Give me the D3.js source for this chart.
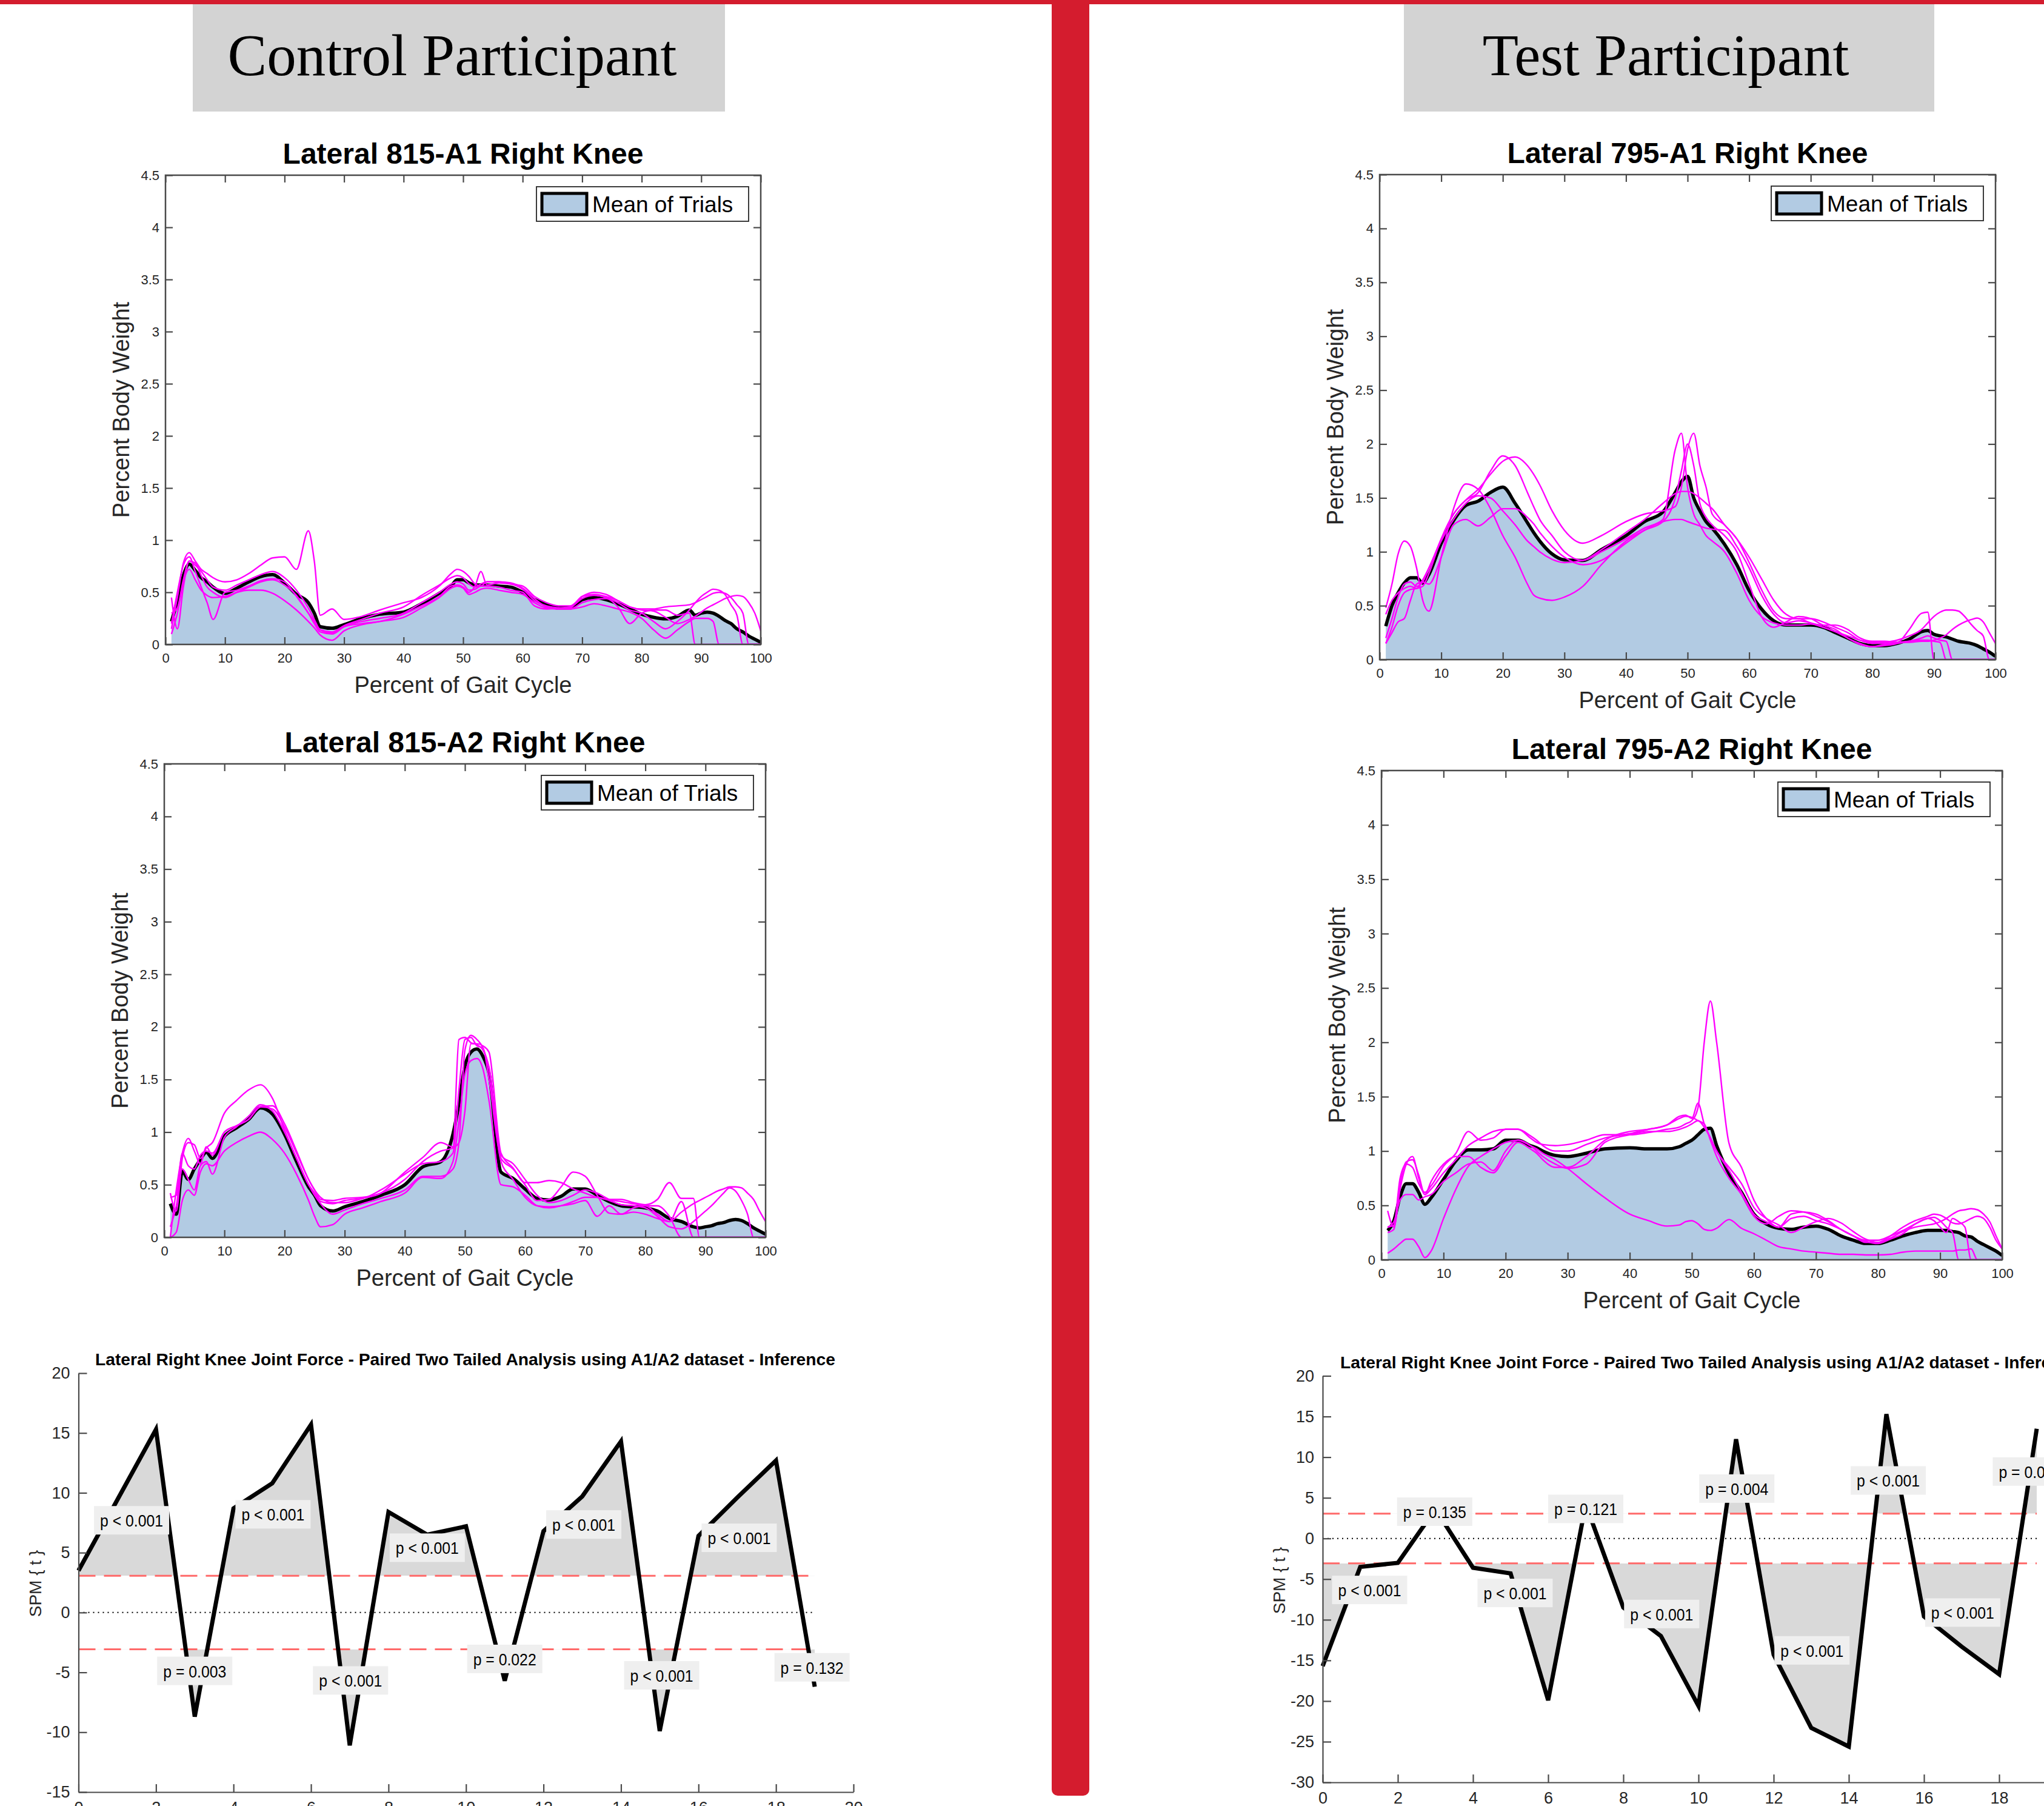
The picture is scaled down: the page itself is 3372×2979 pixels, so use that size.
<!DOCTYPE html>
<html>
<head>
<meta charset="utf-8">
<script src="https://cdn.jsdelivr.net/npm/d3@7"></script>
<style>
  body { margin: 0; background: #fff; }
  svg { display: block; }
</style>
</head>
<body>
<div id="chart"></div>
<script>
// gait cycle sample points (percent) shared by every force panel
const gait = [1,2,3,4,5,6,7,8, 10,12,14,16,18,20,22,24, 25,26,28,30,33,36,40,43,
  46,48,49,50,51,52,53,54, 56,58,60,62,64,66,68,70, 72,74,76,78,80,82,84,86,
  88,89,90,91,92,93,94,95, 96,97,98,99,100];

const forceYTicks = [0, 0.5, 1, 1.5, 2, 2.5, 3, 3.5, 4, 4.5];
const gaitTicks = [0, 10, 20, 30, 40, 50, 60, 70, 80, 90, 100];

// ---- Control 815-A1 ----
const ctrlA1Mean = [0.22,0.42,0.66,0.77,0.71,0.64,0.60,0.55, 0.49,0.54,0.60,0.65,0.67,0.59,0.48,0.40,
  0.30,0.17,0.155,0.19,0.25,0.29,0.31,0.39, 0.49,0.56,0.62,0.62,0.59,0.57,0.57,0.57,
  0.56,0.55,0.50,0.43,0.38,0.35,0.35,0.43, 0.45,0.43,0.39,0.34,0.29,0.26,0.245,0.27,
  0.33,0.28,0.30,0.31,0.30,0.27,0.23,0.20, 0.15,0.12,0.08,0.05,0.02];
const ctrlA1Trials = [
  [0.15,0.45,0.78,0.88,0.80,0.72,0.68,0.64, 0.60,0.62,0.68,0.76,0.83,0.84,0.72,1.09,
   0.80,0.28,0.34,0.24,0.27,0.33,0.40,0.45, 0.56,0.68,0.72,0.70,0.65,0.58,0.56,0.60,
   0.60,0.58,0.56,0.46,0.40,0.37,0.37,0.46, 0.50,0.48,0.42,0.36,0.34,0.34,0.36,0.37,
   0.38,0.40,0.43,0.46,0.49,0.50,0.49,0.45, 0.38,0.30,0,0,0],
  [0.20,0.50,0.76,0.84,0.70,0.55,0.40,0.24, 0.50,0.52,0.56,0.61,0.63,0.60,0.46,0.30,
   0.22,0.14,0.11,0.17,0.20,0.22,0.29,0.37, 0.46,0.56,0.57,0.55,0.50,0.56,0.70,0.57,
   0.59,0.58,0.53,0.42,0.37,0.35,0.34,0.40, 0.43,0.44,0.36,0.20,0.30,0.33,0.33,0.28,
   0.30,0,0,0,0,0,0,0, 0,0,0,0,0],
  [0.10,0.30,0.60,0.72,0.62,0.52,0.47,0.45, 0.46,0.50,0.52,0.52,0.49,0.42,0.33,0.22,
   0.16,0.09,0.04,0.13,0.19,0.22,0.26,0.35, 0.45,0.54,0.56,0.54,0.48,0.50,0.53,0.54,
   0.52,0.50,0.48,0.40,0.35,0.34,0.34,0.36, 0.39,0.37,0.34,0.31,0.25,0.14,0.06,0.14,
   0.22,0.25,0.25,0.25,0.22,0,0,0, 0,0,0,0,0],
  [0.30,0.35,0.62,0.80,0.76,0.70,0.62,0.55, 0.52,0.57,0.62,0.67,0.70,0.64,0.52,0.35,
   0.24,0.14,0.12,0.18,0.24,0.30,0.36,0.47, 0.57,0.64,0.66,0.64,0.58,0.55,0.58,0.60,
   0.60,0.59,0.54,0.44,0.36,0.34,0.35,0.46, 0.48,0.46,0.42,0.36,0.33,0.32,0.26,0.20,
   0.24,0.27,0.31,0.35,0.38,0.41,0.44,0.46, 0.47,0.46,0.40,0.30,0.13],
  [0.45,0.15,0.55,0.80,0.78,0.66,0.55,0.50, 0.45,0.50,0.55,0.60,0.62,0.57,0.47,0.30,
   0.20,0.12,0.10,0.17,0.22,0.25,0.30,0.40, 0.50,0.58,0.60,0.58,0.52,0.53,0.56,0.56,
   0.55,0.52,0.50,0.37,0.34,0.35,0.36,0.44, 0.47,0.45,0.40,0.33,0.30,0.22,0.15,0.22,
   0.33,0.40,0.46,0.50,0.53,0.52,0.48,0.38, 0.28,0,0,0,0]
];

// ---- Control 815-A2 ----
const ctrlA2Mean = [0.32,0.22,0.63,0.55,0.65,0.74,0.81,0.75, 0.96,1.04,1.12,1.23,1.17,0.98,0.72,0.48,
  0.40,0.30,0.25,0.29,0.34,0.40,0.50,0.67, 0.72,0.98,1.27,1.63,1.76,1.79,1.72,1.56,
  0.62,0.56,0.46,0.37,0.355,0.39,0.46,0.46, 0.40,0.34,0.30,0.29,0.28,0.25,0.18,0.15,
  0.10,0.09,0.10,0.11,0.13,0.14,0.16,0.17, 0.16,0.13,0.09,0.06,0.03];
const ctrlA2Trials = [
  [0.42,0.25,0.75,0.90,0.88,0.75,0.85,0.90, 1.18,1.30,1.40,1.45,1.32,1.02,0.75,0.50,
   0.42,0.34,0.32,0.35,0.37,0.45,0.60,0.70, 0.72,0.80,1.40,1.88,1.90,1.82,1.80,1.50,
   0.75,0.65,0.50,0.35,0.36,0.48,0.62,0.58, 0.40,0.23,0.22,0.24,0.22,0.18,0.15,0.24,
   0.32,0.35,0.38,0.41,0.44,0.46,0.48,0.48, 0.47,0.42,0.36,0.25,0.15],
  [0.0,0.05,0.35,0.45,0.40,0.62,0.70,0.68, 0.82,0.90,0.96,1.00,0.93,0.80,0.60,0.35,
   0.20,0.10,0.12,0.22,0.28,0.34,0.42,0.57, 0.56,0.72,1.10,1.55,1.68,1.70,1.60,1.30,
   0.50,0.48,0.40,0.30,0.28,0.30,0.34,0.38, 0.38,0.35,0.31,0.30,0.28,0.20,0.10,0.08,
   0.15,0.20,0.25,0.30,0.36,0.42,0.47,0.44, 0.35,0.22,0,0,0],
  [0.38,0.40,0.80,0.68,0.65,0.78,0.82,0.80, 1.00,1.06,1.12,1.24,1.22,1.05,0.80,0.55,
   0.45,0.36,0.35,0.37,0.38,0.42,0.55,0.72, 0.82,0.85,0.90,1.20,1.84,1.84,1.82,1.76,
   0.80,0.66,0.52,0.52,0.54,0.52,0.46,0.42, 0.38,0.36,0.36,0.33,0.31,0.36,0.52,0.37,
   0.37,0,0,0,0,0,0,0, 0,0,0,0,0],
  [0.10,0.30,0.65,0.55,0.45,0.68,0.72,0.60, 0.95,1.05,1.15,1.26,1.20,1.00,0.75,0.50,
   0.40,0.32,0.22,0.26,0.32,0.37,0.45,0.58, 0.58,0.65,0.90,1.78,1.92,1.88,1.80,1.60,
   0.72,0.55,0.38,0.30,0.29,0.30,0.32,0.35, 0.20,0.30,0.22,0.28,0.30,0.22,0.15,0.34,
   0,0,0,0,0,0,0,0, 0,0,0,0,0],
  [0.0,0.45,0.80,0.94,0.82,0.70,0.86,0.78, 1.00,1.06,1.12,1.24,1.25,1.08,0.82,0.55,
   0.45,0.38,0.33,0.33,0.37,0.42,0.62,0.76, 0.90,0.86,1.88,1.90,1.85,1.83,1.78,1.62,
   0.78,0.70,0.55,0.40,0.33,0.35,0.40,0.45, 0.42,0.36,0.34,0.32,0.30,0.30,0.20,0,
   0,0,0,0,0,0,0,0, 0,0,0,0,0]
];

// ---- Test 795-A1 ----
const testA1Mean = [0.31,0.50,0.62,0.71,0.76,0.76,0.71,0.79, 1.08,1.29,1.43,1.47,1.55,1.60,1.45,1.27,
  1.18,1.10,0.98,0.925,0.92,1.02,1.15,1.28, 1.37,1.55,1.65,1.70,1.50,1.38,1.28,1.22,
  1.07,0.88,0.64,0.47,0.36,0.32,0.32,0.32, 0.30,0.25,0.20,0.15,0.13,0.13,0.15,0.19,
  0.26,0.27,0.235,0.22,0.21,0.19,0.17,0.16, 0.15,0.13,0.10,0.07,0.03];
const testA1Trials = [
  [0.15,0.30,0.50,0.62,0.65,0.66,0.68,0.80, 1.12,1.35,1.48,1.55,1.75,1.89,1.80,1.55,
   1.42,1.30,1.15,1.00,0.92,1.00,1.12,1.22, 1.30,1.95,2.10,1.60,1.35,1.25,1.15,1.10,
   1.00,0.80,0.55,0.40,0.34,0.32,0.32,0.33, 0.30,0.26,0.20,0.14,0.12,0.13,0.15,0.28,
   0.43,0.44,0,0,0,0,0,0, 0,0,0,0,0],
  [0.42,0.55,0.62,0.66,0.68,0.66,0.74,0.85, 1.12,1.35,1.48,1.58,1.72,1.84,1.88,1.80,
   1.72,1.62,1.38,1.20,1.08,1.15,1.28,1.35, 1.38,1.42,1.60,1.95,2.10,1.80,1.60,1.35,
   1.25,1.12,0.95,0.75,0.55,0.42,0.38,0.38, 0.35,0.30,0.25,0.18,0.15,0.16,0.18,0.22,
   0.28,0.34,0.40,0.44,0.46,0.46,0.45,0.40, 0.33,0.27,0.22,0,0],
  [0.48,0.70,0.98,1.10,1.05,0.85,0.55,0.45, 0.95,1.40,1.63,1.58,1.40,1.15,0.95,0.70,
   0.60,0.57,0.55,0.58,0.68,0.88,1.10,1.20, 1.28,1.50,1.75,2.00,1.80,1.45,1.32,1.25,
   1.15,1.00,0.70,0.40,0.30,0.35,0.40,0.38, 0.32,0.28,0.20,0.15,0.12,0.14,0.15,0.17,
   0.20,0.22,0.20,0.18,0.17,0,0,0, 0,0,0,0,0],
  [0.15,0.25,0.35,0.38,0.55,0.70,0.72,0.70, 0.95,1.25,1.30,1.24,1.32,1.40,1.40,1.32,
   1.26,1.18,1.05,0.95,0.88,0.92,1.08,1.20, 1.28,1.30,1.30,1.28,1.26,1.24,1.22,1.21,
   1.20,1.05,0.85,0.60,0.42,0.34,0.36,0.34, 0.30,0.26,0.22,0.18,0.16,0.15,0.16,0.17,
   0.18,0.18,0.17,0.16,0,0,0,0, 0,0,0,0,0],
  [0.20,0.38,0.58,0.70,0.72,0.68,0.72,0.85, 1.10,1.30,1.45,1.52,1.50,1.38,1.25,1.10,
   1.05,1.00,0.93,0.90,0.92,1.02,1.18,1.30, 1.45,1.54,1.56,1.56,1.54,1.50,1.45,1.40,
   1.25,1.12,0.90,0.65,0.45,0.38,0.38,0.34, 0.32,0.32,0.28,0.20,0.17,0.17,0.16,0.16,
   0.17,0.17,0.18,0.20,0.23,0.28,0.32,0.35, 0.37,0.385,0.35,0.25,0.15]
];

// ---- Test 795-A2 ----
const testA2Mean = [0.27,0.36,0.58,0.70,0.70,0.62,0.51,0.57, 0.74,0.91,1.01,1.01,1.02,1.10,1.10,1.05,
  1.03,1.00,0.96,0.95,0.98,1.02,1.03,1.02, 1.02,1.04,1.07,1.10,1.15,1.20,1.21,1.05,
  0.79,0.62,0.42,0.33,0.29,0.28,0.30,0.31, 0.28,0.22,0.18,0.15,0.15,0.18,0.22,0.25,
  0.27,0.27,0.27,0.27,0.26,0.25,0.22,0.21, 0.17,0.14,0.11,0.08,0.04];
const testA2Trials = [
  [0.06,0.10,0.15,0.19,0.19,0.12,0.02,0.08, 0.38,0.65,0.86,0.95,1.02,1.08,1.10,1.05,
   1.02,0.98,0.92,0.84,0.70,0.57,0.42,0.36, 0.31,0.32,0.35,0.36,0.33,0.28,0.27,0.29,
   0.37,0.29,0.24,0.18,0.12,0.10,0.08,0.07, 0.06,0.05,0.05,0.045,0.045,0.05,0.07,0.08,
   0.08,0.08,0.08,0.08,0.08,0.09,0.09,0.10, 0,0,0,0,0],
  [0.45,0.30,0.65,0.88,0.95,0.75,0.60,0.65, 0.80,0.92,1.05,1.12,1.18,1.20,1.20,1.12,
   1.08,1.06,1.05,1.06,1.10,1.15,1.15,1.17, 1.20,1.22,1.25,1.28,1.40,2.00,2.38,2.00,
   1.07,0.85,0.55,0.38,0.30,0.42,0.44,0.42, 0.36,0.28,0.22,0.18,0.18,0.22,0.27,0.33,
   0.38,0.39,0.36,0.30,0.25,0,0,0, 0,0,0,0,0],
  [0.30,0.32,0.75,0.88,0.85,0.70,0.62,0.68, 0.86,0.98,1.18,1.10,1.12,1.20,1.20,1.14,
   1.10,1.05,1.00,1.00,1.06,1.12,1.16,1.20, 1.24,1.30,1.32,1.31,1.28,1.25,1.10,0.95,
   0.75,0.60,0.40,0.33,0.40,0.45,0.44,0.40, 0.35,0.28,0.22,0.16,0.16,0.22,0.30,0.36,
   0.40,0.42,0.41,0.38,0.34,0.33,0.35,0.38, 0.40,0.38,0.30,0.18,0.10],
  [0.25,0.28,0.70,0.90,0.92,0.78,0.60,0.72, 0.88,0.95,0.95,0.85,0.80,0.95,1.08,1.02,
   0.98,0.92,0.85,0.85,0.95,1.10,1.18,1.20, 1.24,1.32,1.33,1.30,1.44,1.25,1.12,1.00,
   0.85,0.70,0.48,0.38,0.32,0.25,0.30,0.35, 0.38,0.34,0.26,0.19,0.16,0.20,0.26,0.30,
   0.32,0.33,0.35,0.38,0.42,0.45,0.46,0.47, 0.46,0.42,0.35,0.22,0.10],
  [0.30,0.35,0.55,0.60,0.60,0.55,0.58,0.60, 0.72,0.80,0.88,0.90,0.82,1.00,1.10,1.05,
   1.00,0.95,0.88,0.84,0.88,1.08,1.15,1.18, 1.18,1.20,1.22,1.25,1.28,1.22,1.12,1.00,
   0.82,0.62,0.42,0.35,0.30,0.38,0.40,0.36, 0.33,0.28,0.22,0.17,0.15,0.19,0.24,0.33,
   0.38,0.36,0.30,0.25,0.38,0.35,0.30,0, 0,0,0,0,0]
];

// ---- SPM paired t-test (A1 vs A2) ----
const spmNodes = [0,1,2,3,4,5,6,7,8,9,10,11,12,13,14,15,16,17,18,19];
const nodeTicks = [0,2,4,6,8,10,12,14,16,18,20];
const spmCtrl = [3.5,9.4,15.3,-8.7,8.7,10.8,15.7,-11.1,8.4,6.5,7.2,-5.7,6.8,9.7,14.3,-9.9,6.4,9.6,12.7,-6.2];
const spmCtrlThresh = 3.07;
const spmCtrlTicks = [-15,-10,-5,0,5,10,15,20];
const spmCtrlLabelX = [1.37,3.0,5.02,7.02,9.0,11.0,13.04,15.05,17.05,18.93];
const spmCtrlLabelY = [7.68,-4.9,8.18,-5.7,5.39,-3.9,7.33,-5.27,6.22,-4.6];
const spmCtrlLabelText = ['p < 0.001','p = 0.003','p < 0.001','p < 0.001','p < 0.001',
  'p = 0.022','p < 0.001','p < 0.001','p < 0.001','p = 0.132'];

const spmTest = [-15.7,-3.5,-3.0,3.6,-3.6,-4.3,-19.9,4.2,-8.5,-12.0,-20.6,12.2,-14.3,-23.3,-25.6,15.3,-9.6,-13.3,-16.7,13.5];
const spmTestThresh = 3.06;
const spmTestTicks = [-30,-25,-20,-15,-10,-5,0,5,10,15,20];
const spmTestLabelX = [1.25,2.98,5.12,7.0,9.02,11.02,13.02,15.05,17.03,18.83];
const spmTestLabelY = [-6.37,3.26,-6.74,3.6,-9.33,6.1,-13.8,7.1,-9.15,8.2];
const spmTestLabelText = ['p < 0.001','p = 0.135','p < 0.001','p = 0.121','p < 0.001',
  'p = 0.004','p < 0.001','p < 0.001','p < 0.001','p = 0.002'];

const W = 3372, H = 2979;
const RED = '#d41c2e';
const FILL = '#b2cbe3';
const AX = '#4a4a4a';
const TXT = '#262626';
const SANS = '"Liberation Sans", Arial, Helvetica, sans-serif';

const svg = d3.select('#chart').append('svg')
  .attr('width', W).attr('height', H)
  .attr('viewBox', `0 0 ${W} ${H}`);

svg.append('rect').attr('width', W).attr('height', H).attr('fill', '#fff');

// heading boxes
function heading(x, w, textX, label) {
  svg.append('rect').attr('x', x).attr('y', 0).attr('width', w).attr('height', 184).attr('fill', '#d3d3d3');
  svg.append('text').attr('x', textX).attr('y', 124).attr('text-anchor', 'middle')
    .attr('font-family', '"Liberation Serif", "Times New Roman", serif')
    .attr('font-size', 97).attr('fill', '#000').text(label);
}
heading(318, 878, 746, 'Control Participant');
heading(2316, 875, 2748, 'Test Participant');

let clipId = 0;

function forcePanel(p) {
  const x = d3.scaleLinear().domain([0, 100]).range([p.left, p.right]);
  const y = d3.scaleLinear().domain([0, 4.5]).range([p.bottom, p.top]);
  const g = svg.append('g');
  const id = 'clip' + (clipId++);
  g.append('clipPath').attr('id', id).append('rect')
    .attr('x', p.left).attr('y', p.top).attr('width', p.right - p.left).attr('height', p.bottom - p.top);
  const plot = g.append('g').attr('clip-path', `url(#${id})`);

  const area = d3.area().x((d, i) => x(gait[i])).y0(y(0)).y1(d => y(d)).curve(d3.curveMonotoneX);
  const line = d3.line().x((d, i) => x(gait[i])).y(d => y(d)).curve(d3.curveMonotoneX);

  plot.append('path').datum(p.mean).attr('d', area).attr('fill', FILL);
  plot.append('path').datum(p.mean).attr('d', line).attr('fill', 'none')
    .attr('stroke', '#000').attr('stroke-width', 5.5).attr('stroke-linejoin', 'round');
  plot.selectAll('.trial').data(p.trials).enter().append('path')
    .attr('class', 'trial').attr('d', line).attr('fill', 'none')
    .attr('stroke', '#ff00ff').attr('stroke-width', 2.4).attr('stroke-linejoin', 'round');

  const fmt = d => String(d);
  const yl = g.append('g').attr('transform', `translate(${p.left},0)`)
    .call(d3.axisLeft(y).tickValues(forceYTicks).tickFormat(fmt).tickSize(-12).tickSizeOuter(0).tickPadding(10));
  const yr = g.append('g').attr('transform', `translate(${p.right},0)`)
    .call(d3.axisRight(y).tickValues(forceYTicks).tickFormat('').tickSize(-12).tickSizeOuter(0));
  const xb = g.append('g').attr('transform', `translate(0,${p.bottom})`)
    .call(d3.axisBottom(x).tickValues(gaitTicks).tickFormat(fmt).tickSize(-12).tickSizeOuter(0).tickPadding(14));
  const xt = g.append('g').attr('transform', `translate(0,${p.top})`)
    .call(d3.axisTop(x).tickValues(gaitTicks).tickFormat('').tickSize(-12).tickSizeOuter(0));
  [yl, yr, xb, xt].forEach(a => {
    a.select('.domain').remove();
    a.selectAll('line').attr('stroke', AX).attr('stroke-width', 2.2);
    a.selectAll('text').attr('fill', TXT).attr('font-size', 22).attr('font-family', SANS);
  });

  g.append('rect').attr('x', p.left).attr('y', p.top)
    .attr('width', p.right - p.left).attr('height', p.bottom - p.top)
    .attr('fill', 'none').attr('stroke', AX).attr('stroke-width', 2.5);

  const cx = (p.left + p.right) / 2;
  g.append('text').attr('x', cx).attr('y', p.top - 19).attr('text-anchor', 'middle')
    .attr('font-family', SANS).attr('font-weight', 'bold').attr('font-size', 48)
    .attr('fill', '#000').text(p.title);
  g.append('text').attr('x', cx).attr('y', p.bottom + 80).attr('text-anchor', 'middle')
    .attr('font-family', SANS).attr('font-size', 38).attr('fill', TXT).text('Percent of Gait Cycle');
  g.append('text')
    .attr('transform', `translate(${p.left - 60},${(p.top + p.bottom) / 2}) rotate(-90)`)
    .attr('text-anchor', 'middle').attr('font-family', SANS).attr('font-size', 38)
    .attr('fill', TXT).text('Percent Body Weight');

  // legend
  const lw = 350, lh = 57;
  const lx = p.right - 20 - lw, ly = p.top + 19;
  g.append('rect').attr('x', lx).attr('y', ly).attr('width', lw).attr('height', lh)
    .attr('fill', '#fff').attr('stroke', TXT).attr('stroke-width', 1.8);
  g.append('rect').attr('x', lx + 9).attr('y', ly + 11).attr('width', 74).attr('height', 35)
    .attr('fill', FILL).attr('stroke', '#000').attr('stroke-width', 5);
  g.append('text').attr('x', lx + 92).attr('y', ly + 42).attr('font-family', SANS)
    .attr('font-size', 37).attr('fill', '#000').text('Mean of Trials');
}

forcePanel({ left: 273, right: 1255, top: 289, bottom: 1063, title: 'Lateral 815-A1 Right Knee', mean: ctrlA1Mean, trials: ctrlA1Trials });
forcePanel({ left: 271, right: 1263, top: 1260, bottom: 2041, title: 'Lateral 815-A2 Right Knee', mean: ctrlA2Mean, trials: ctrlA2Trials });
forcePanel({ left: 2276, right: 3292, top: 288, bottom: 1088, title: 'Lateral 795-A1 Right Knee', mean: testA1Mean, trials: testA1Trials });
forcePanel({ left: 2279, right: 3303, top: 1271, bottom: 2078, title: 'Lateral 795-A2 Right Knee', mean: testA2Mean, trials: testA2Trials });

function spmPanel(p) {
  const x = d3.scaleLinear().domain([0, 20]).range([p.x0, p.x20]);
  const y = d3.scaleLinear().domain([p.ymin, 20]).range([p.bottom, p.top]);
  const g = svg.append('g');
  const xEnd = x(spmNodes[spmNodes.length - 1]);

  // suprathreshold clusters
  const up = 'clip' + (clipId++), lo = 'clip' + (clipId++);
  g.append('clipPath').attr('id', up).append('rect')
    .attr('x', p.x0).attr('y', p.top - 100).attr('width', xEnd - p.x0).attr('height', y(p.thresh) - p.top + 100);
  g.append('clipPath').attr('id', lo).append('rect')
    .attr('x', p.x0).attr('y', y(-p.thresh)).attr('width', xEnd - p.x0).attr('height', p.bottom - y(-p.thresh) + 100);
  g.append('path').datum(p.values).attr('clip-path', `url(#${up})`).attr('fill', '#d9d9d9')
    .attr('d', d3.area().x((d, i) => x(spmNodes[i])).y0(y(p.thresh)).y1(d => y(d)));
  g.append('path').datum(p.values).attr('clip-path', `url(#${lo})`).attr('fill', '#d9d9d9')
    .attr('d', d3.area().x((d, i) => x(spmNodes[i])).y0(y(-p.thresh)).y1(d => y(d)));

  // zero line and thresholds
  g.append('line').attr('x1', p.x0).attr('x2', xEnd).attr('y1', y(0)).attr('y2', y(0))
    .attr('stroke', '#000').attr('stroke-width', 2).attr('stroke-dasharray', '2,6');
  [p.thresh, -p.thresh].forEach(t => {
    g.append('line').attr('x1', p.x0).attr('x2', xEnd).attr('y1', y(t)).attr('y2', y(t))
      .attr('stroke', '#ff6a6a').attr('stroke-width', 3).attr('stroke-dasharray', '28,14');
  });

  g.append('path').datum(p.values).attr('fill', 'none').attr('stroke', '#000')
    .attr('stroke-width', 7).attr('stroke-linejoin', 'miter')
    .attr('d', d3.line().x((d, i) => x(spmNodes[i])).y(d => y(d)));

  // axes
  const ya = g.append('g').attr('transform', `translate(${p.x0},0)`)
    .call(d3.axisLeft(y).tickValues(p.ticks).tickFormat(d => String(d)).tickSize(-14).tickSizeOuter(0).tickPadding(14));
  const xa = g.append('g').attr('transform', `translate(0,${p.bottom})`)
    .call(d3.axisBottom(x).tickValues(nodeTicks).tickFormat(d => String(d)).tickSize(-13).tickSizeOuter(0).tickPadding(16));
  [ya, xa].forEach(a => {
    a.select('.domain').attr('stroke', AX).attr('stroke-width', 2.2);
    a.selectAll('line').attr('stroke', AX).attr('stroke-width', 2.2);
    a.selectAll('text').attr('fill', TXT).attr('font-size', 27).attr('font-family', SANS);
  });

  g.append('text').attr('x', p.titleX).attr('y', p.top - 13)
    .attr('font-family', SANS).attr('font-weight', 'bold').attr('font-size', 28)
    .attr('textLength', 1221).attr('lengthAdjust', 'spacingAndGlyphs').attr('fill', '#000')
    .text('Lateral Right Knee Joint Force - Paired Two Tailed Analysis using A1/A2 dataset - Inference');
  g.append('text')
    .attr('transform', `translate(${p.x0 - 62},${p.axisLabelY}) rotate(-90)`)
    .attr('text-anchor', 'middle').attr('font-family', SANS).attr('font-size', 28)
    .attr('fill', TXT).text('SPM { t }');

  // cluster p-value boxes
  const boxes = g.selectAll('.pbox').data(p.labelText).enter().append('g')
    .attr('class', 'pbox')
    .attr('transform', (d, i) => `translate(${x(p.labelX[i])},${y(p.labelY[i])})`);
  boxes.append('rect').attr('x', -62).attr('y', -24).attr('width', 124).attr('height', 47)
    .attr('fill', '#efefef');
  boxes.append('text').attr('x', -52).attr('y', 10).attr('font-family', SANS)
    .attr('font-size', 28).attr('textLength', 104).attr('lengthAdjust', 'spacingAndGlyphs')
    .attr('fill', '#000').text(d => d);
}

spmPanel({ x0: 129.5, x20: 1408, top: 2265, bottom: 2956, ymin: -15, values: spmCtrl,
  thresh: spmCtrlThresh, ticks: spmCtrlTicks, labelX: spmCtrlLabelX, labelY: spmCtrlLabelY,
  labelText: spmCtrlLabelText, titleX: 157, axisLabelY: 2612 });
spmPanel({ x0: 2182, x20: 3422, top: 2269.5, bottom: 2940, ymin: -30, values: spmTest,
  thresh: spmTestThresh, ticks: spmTestTicks, labelX: spmTestLabelX, labelY: spmTestLabelY,
  labelText: spmTestLabelText, titleX: 2211, axisLabelY: 2607 });

// red frame: top band and centre divider
svg.append('rect').attr('x', 0).attr('y', 0).attr('width', W).attr('height', 7).attr('fill', RED);
svg.append('rect').attr('x', 1735).attr('y', -20).attr('width', 62).attr('height', 2982)
  .attr('rx', 10).attr('fill', RED);
</script>
</body>
</html>
